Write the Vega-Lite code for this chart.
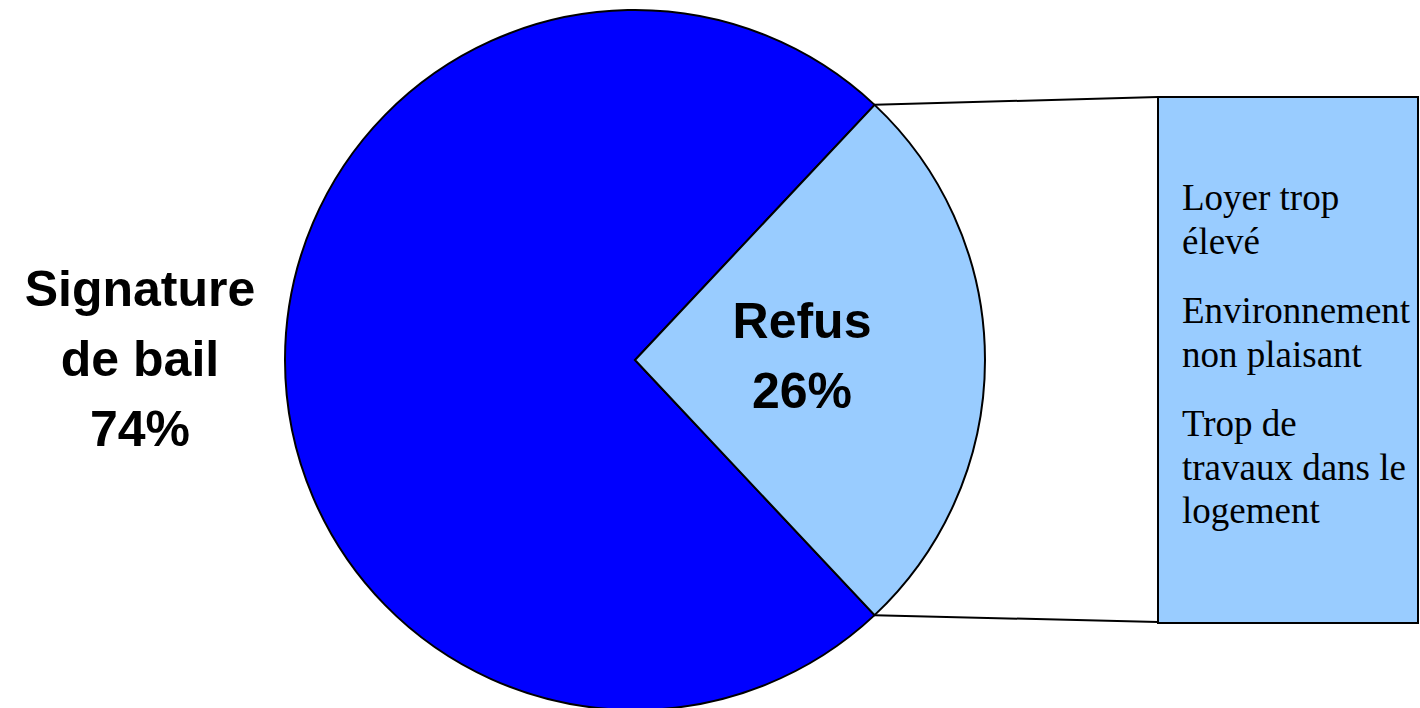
{
  "$schema": "https://vega.github.io/schema/vega-lite/v6.json",
  "width": 700,
  "height": 696,
  "autosize": {"type": "none"},
  "padding": {"left": 285, "top": 12, "right": 435, "bottom": 0},
  "background": "white",
  "config": {"view": {"stroke": null}},
  "datasets": {
    "parts": [
      {"category": "Signature de bail", "value": 74, "label": "Signature\nde bail\n74%"},
      {"category": "Refus", "value": 26, "label": "Refus\n26%"}
    ],
    "motifs": [
      {"motif": "Loyer trop\nélevé"},
      {"motif": "Environnement\nnon plaisant"},
      {"motif": "Trop de\ntravaux dans le\nlogement"}
    ],
    "refus": [{"category": "Refus", "value": 26}]
  },
  "layer": [
    {
      "data": {"name": "parts"},
      "mark": {"type": "arc", "outerRadius": 350, "stroke": "black", "strokeWidth": 2},
      "encoding": {
        "theta": {"field": "value", "type": "quantitative", "stack": true, "scale": {"range": [0.754, 7.0372]}},
        "order": {"field": "category", "sort": "ascending"},
        "color": {"field": "category", "type": "nominal", "scale": {"domain": ["Signature de bail", "Refus"], "range": ["#0000FF", "#99CCFF"]}, "legend": null}
      }
    },
    {
      "data": {"name": "refus"},
      "mark": {"type": "rule", "stroke": "black", "strokeWidth": 2},
      "encoding": {
        "x": {"value": 589.6},
        "y": {"value": 92.8},
        "x2": {"value": 873},
        "y2": {"value": 85}
      }
    },
    {
      "data": {"name": "refus"},
      "mark": {"type": "rule", "stroke": "black", "strokeWidth": 2},
      "encoding": {
        "x": {"value": 589.6},
        "y": {"value": 603.2},
        "x2": {"value": 873},
        "y2": {"value": 610}
      }
    },
    {
      "data": {"name": "refus"},
      "mark": {"type": "rect", "fill": "#99CCFF", "stroke": "black", "strokeWidth": 2},
      "encoding": {
        "x": {"value": 873},
        "x2": {"value": 1133},
        "y": {"value": 85},
        "y2": {"value": 611}
      }
    },
    {
      "data": {"name": "motifs"},
      "mark": {"type": "text", "x": 897, "align": "left", "baseline": "alphabetic", "font": "Liberation Serif", "fontSize": 37, "lineBreak": "\n", "lineHeight": 43.5, "color": "black"},
      "encoding": {
        "y": {"field": "motif", "type": "nominal", "sort": null, "scale": {"type": "point", "range": [198, 424], "padding": 0}, "axis": null},
        "text": {"field": "motif"}
      }
    },
    {
      "data": {"name": "parts"},
      "mark": {"type": "text", "font": "Liberation Sans", "fontWeight": "bold", "fontSize": 50, "lineBreak": "\n", "lineHeight": 70, "align": "center", "baseline": "middle", "dy": -69, "color": "black"},
      "encoding": {
        "theta": {"field": "value", "type": "quantitative", "stack": true, "scale": {"range": [0.754, 7.0372]}},
        "order": {"field": "category", "sort": "ascending"},
        "radius": {"value": 495},
        "text": {"condition": {"test": "datum.category === 'Signature de bail'", "field": "label"}, "value": ""}
      }
    },
    {
      "data": {"name": "parts"},
      "mark": {"type": "text", "font": "Liberation Sans", "fontWeight": "bold", "fontSize": 50, "lineBreak": "\n", "lineHeight": 70, "align": "center", "baseline": "middle", "dy": -37.5, "color": "black"},
      "encoding": {
        "theta": {"field": "value", "type": "quantitative", "stack": true, "scale": {"range": [0.754, 7.0372]}},
        "order": {"field": "category", "sort": "ascending"},
        "radius": {"value": 167},
        "text": {"condition": {"test": "datum.category === 'Refus'", "field": "label"}, "value": ""}
      }
    }
  ]
}
